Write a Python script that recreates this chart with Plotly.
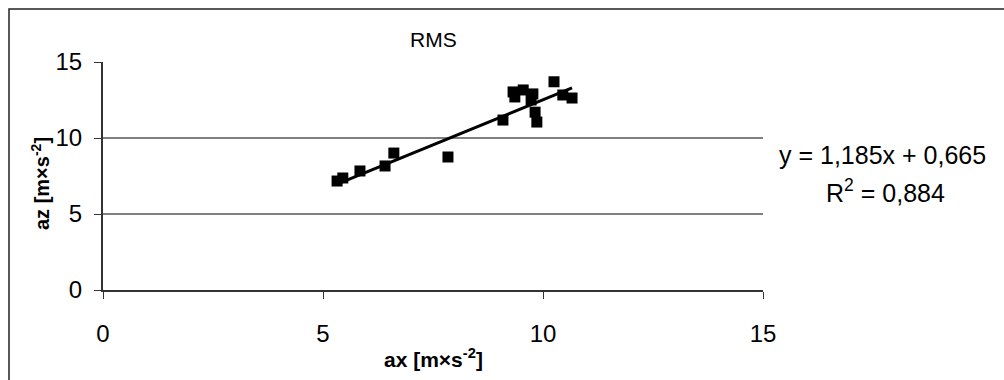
import plotly.graph_objects as go

# Data
ax_vals = [5.32, 5.45, 5.84, 6.41, 6.61, 7.84, 9.09, 9.32, 9.36, 9.55, 9.73, 9.77, 9.82, 9.86, 10.25, 10.45, 10.66]
az_vals = [7.17, 7.37, 7.83, 8.16, 9.01, 8.75, 11.18, 13.03, 12.70, 13.16, 12.50, 12.90, 11.70, 11.05, 13.70, 12.83, 12.63]

slope = 1.185
intercept = 0.665
r2 = 0.884

x_ticks = [0, 5, 10, 15]
y_ticks = [0, 5, 10, 15]

fx = [min(ax_vals), max(ax_vals)]
fy = [slope * v + intercept for v in fx]

FONT = "Liberation Sans, Arial, sans-serif"

fig = go.Figure()
fig.add_trace(go.Scatter(x=ax_vals, y=az_vals, mode="markers",
                         marker=dict(symbol="square", size=11, color="black"),
                         showlegend=False))
fig.add_trace(go.Scatter(x=fx, y=fy, mode="lines",
                         line=dict(color="black", width=3),
                         showlegend=False))

L, R, T, B = 103, 241, 62, 90
W, H = 1004, 380
pw, ph = W - L - R, H - T - B

def px2x(px):
    return (px - L) / pw

def py2y(py):
    return (H - B - py) / ph

fig.update_layout(
    width=W, height=H,
    margin=dict(l=L, r=R, t=T, b=B),
    paper_bgcolor="white", plot_bgcolor="white",
    font=dict(family=FONT, color="black"),
    xaxis=dict(range=[0, 15], tickvals=x_ticks, showgrid=False, zeroline=False,
               showline=True, linecolor="#333333", linewidth=2,
               ticks="outside", ticklen=7, tickcolor="#333333", tickwidth=1,
               tickfont=dict(size=24, family=FONT), ticklabelstandoff=14),
    yaxis=dict(range=[0, 15], tickvals=y_ticks, showgrid=True, gridcolor="#808080", gridwidth=1.5,
               zeroline=False, showline=True, linecolor="#333333", linewidth=2,
               ticks="outside", ticklen=7, tickcolor="#333333", tickwidth=1,
               tickfont=dict(size=24, family=FONT), ticklabelstandoff=7),
)

fig.add_annotation(x=0.5, y=py2y(40), xref="paper", yref="paper",
                   xanchor="center", yanchor="middle", showarrow=False,
                   text="RMS", font=dict(size=21, family=FONT))
fig.add_annotation(x=px2x(433), y=py2y(358), xref="paper", yref="paper",
                   xanchor="center", yanchor="middle", showarrow=False,
                   text="<b>ax [m×s<sup>-2</sup>]</b>", font=dict(size=21, family=FONT))
fig.add_annotation(x=px2x(40), y=py2y(184), xref="paper", yref="paper",
                   xanchor="center", yanchor="middle", showarrow=False, textangle=-90,
                   text="<b>az [m×s<sup>-2</sup>]</b>", font=dict(size=20, family=FONT))
fig.add_annotation(x=px2x(777), y=py2y(155), xref="paper", yref="paper",
                   xanchor="left", yanchor="middle", showarrow=False,
                   text="y = 1,185x + 0,665", font=dict(size=25, family=FONT))
fig.add_annotation(x=px2x(885), y=py2y(191), xref="paper", yref="paper",
                   xanchor="center", yanchor="middle", showarrow=False,
                   text="R<sup>2</sup> = 0,884", font=dict(size=25, family=FONT))

fig.add_shape(type="rect", xref="paper", yref="paper",
              x0=px2x(9), x1=px2x(1012), y0=py2y(392), y1=py2y(9),
              line=dict(color="#222222", width=1.5), fillcolor="rgba(0,0,0,0)", layer="below")

fig.write_html("out.html")
